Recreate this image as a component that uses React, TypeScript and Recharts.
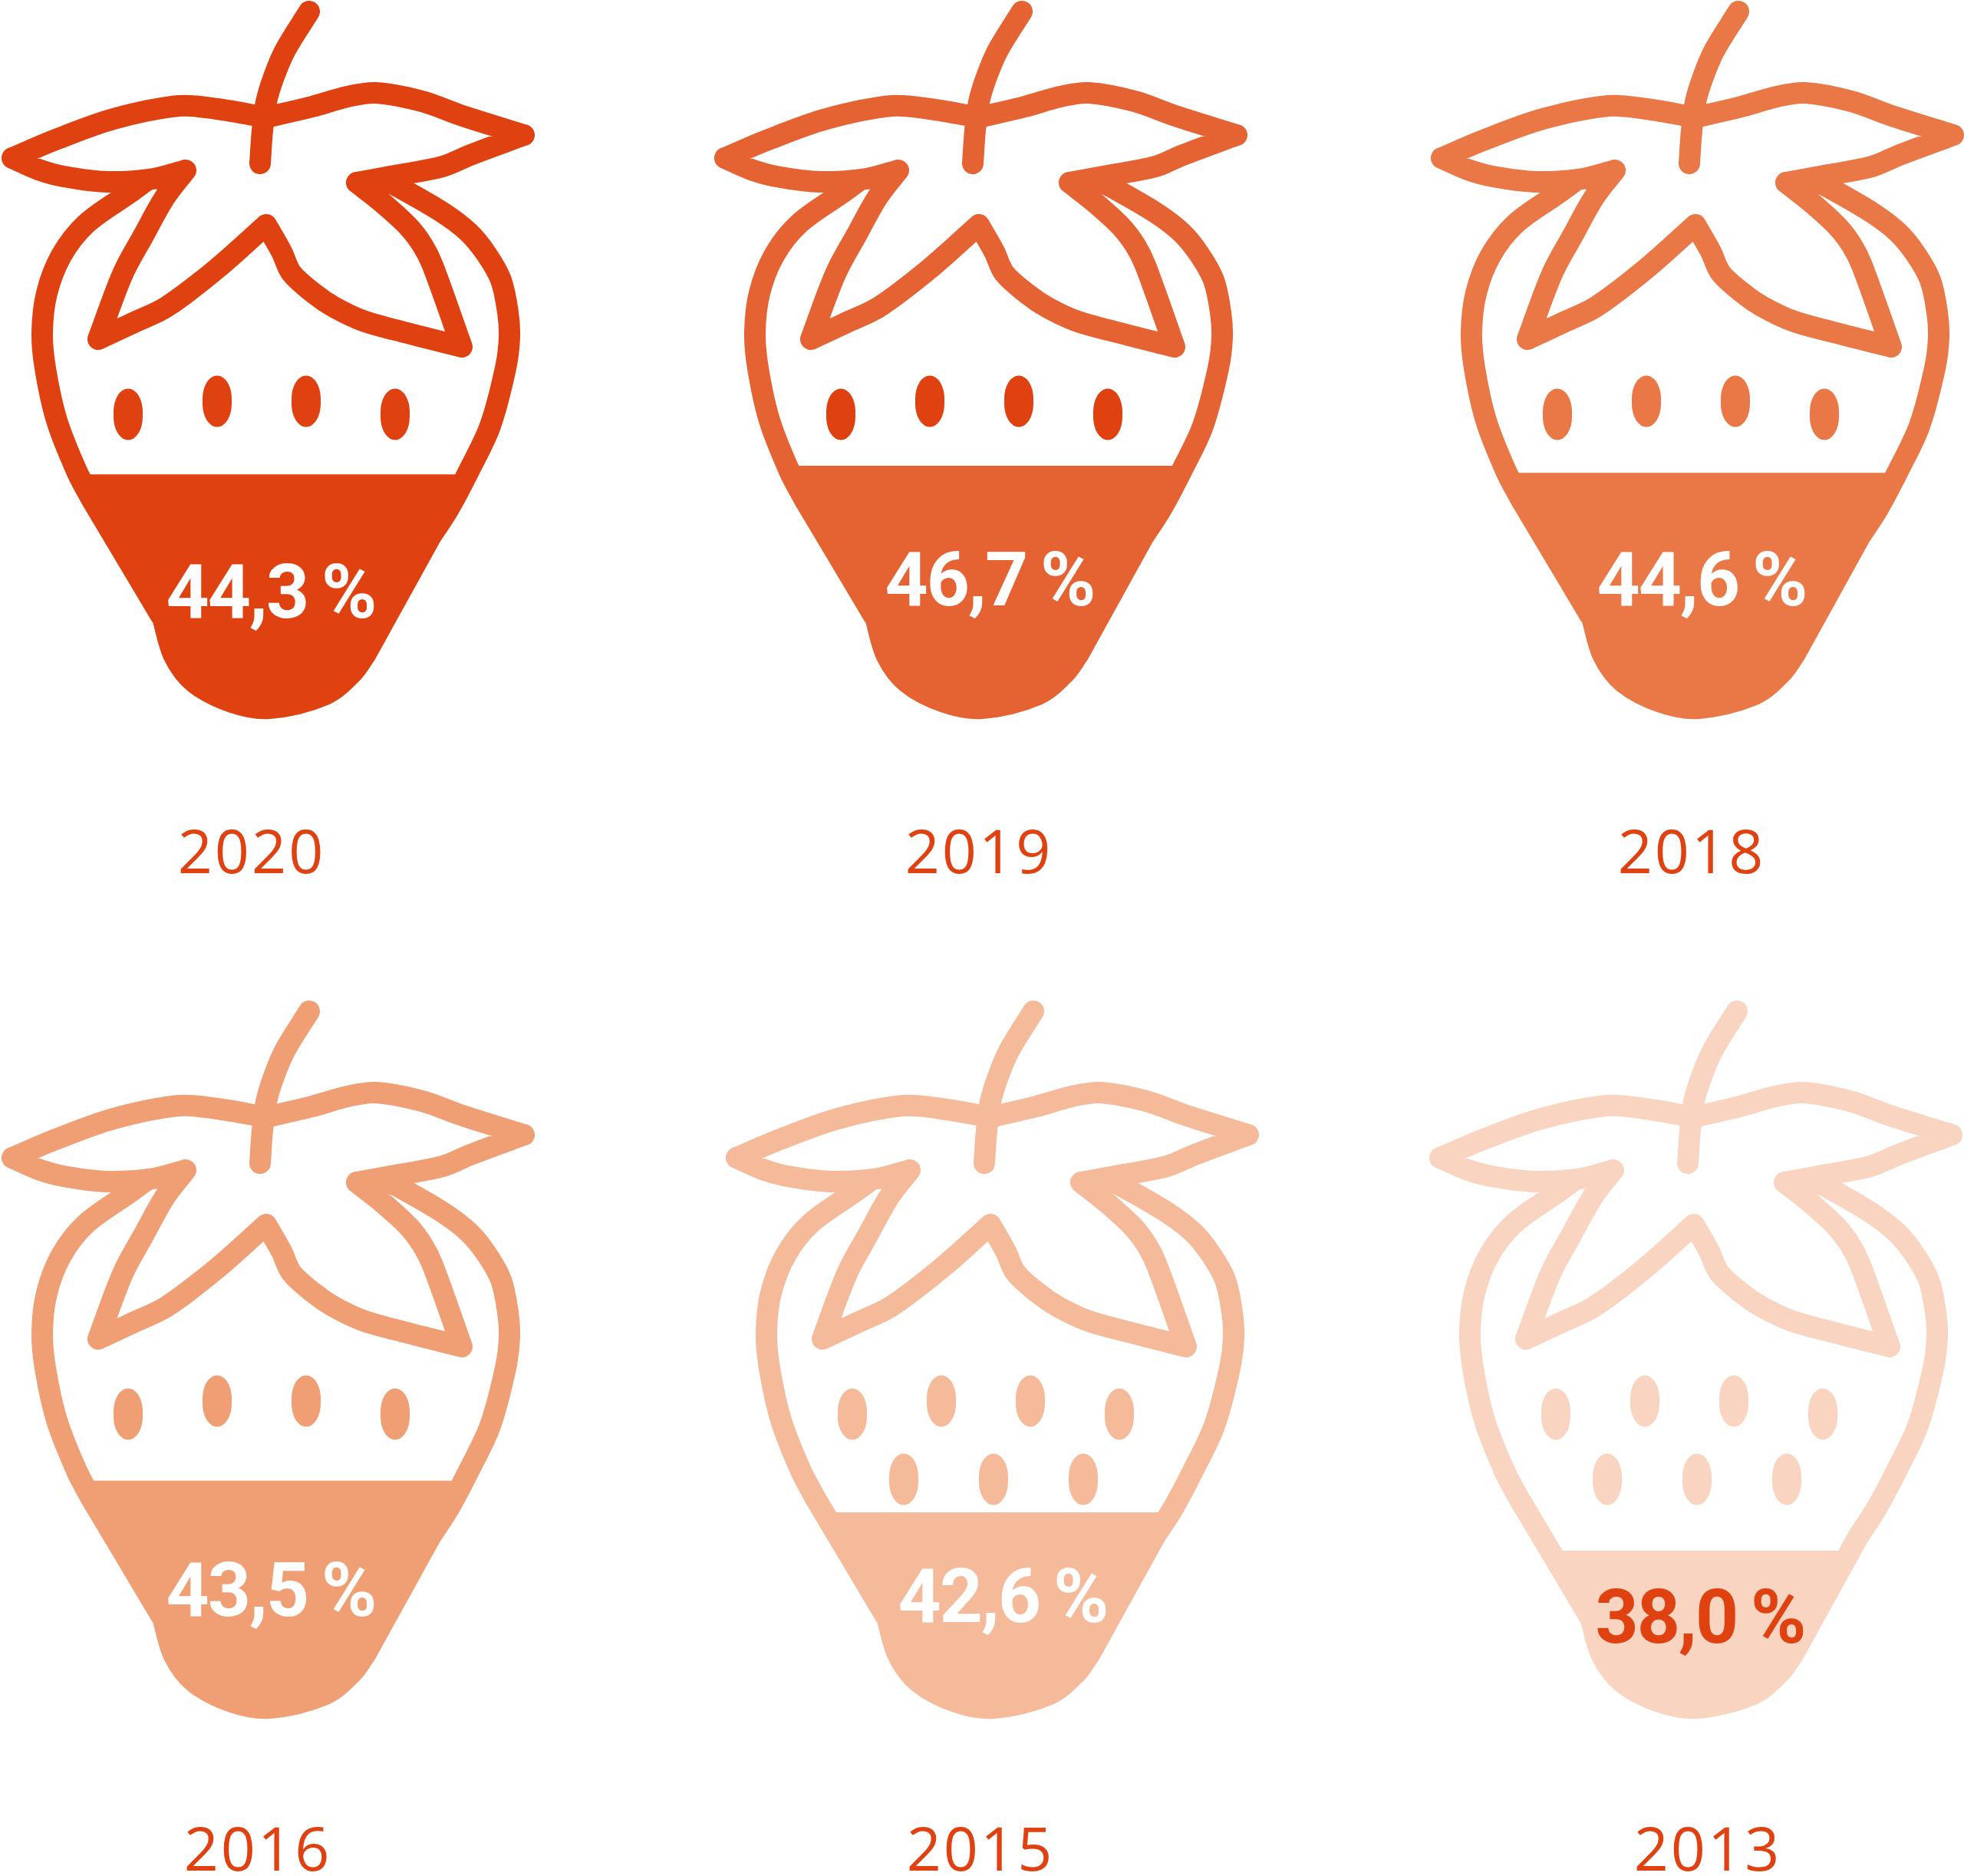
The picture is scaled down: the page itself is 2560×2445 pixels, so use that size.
import React from "react";
import { BarChart, Bar, XAxis, YAxis, LabelList } from "recharts";

// data
const years = ["2020", "2019", "2018", "2016", "2015", "2013"];
const percentages = [44.3, 46.7, 44.6, 43.5, 42.6, 38.0];
// height of the filled part, as a share of the strawberry's height
const fillLevels = [34.3, 35.5, 34.5, 33.4, 29.0, 23.7];

// layout and style, one entry per panel
const panelLeft = [0, 929, 1863, 0, 944, 1861];
const panelTop = [0, 0, 0, 1303, 1303, 1303];
const colours = ["#DF4210", "#E56233", "#EA7746", "#F09E74", "#F5BA9A", "#F9D5C1"];
const seedColours = ["#DF4210", "#DF4210", "#EA7746", "#F09E74", "#F5BA9A", "#F9D5C1"];
const textColours = ["#FFFFFF", "#FFFFFF", "#FFFFFF", "#FFFFFF", "#FFFFFF", "#DF4210"];
const valueX = [354, 362, 356, 354, 364, 356];
const valueY = [805, 789, 789, 803, 811, 838];
const yearX = [328, 347, 342, 336, 334, 365];
const yearY = [1138, 1138, 1138, 1135, 1135, 1135];
const secondRowSeeds = [false, false, false, false, true, true];

const ICON_BOTTOM = 941;
const CHART_W = 704;
const CHART_H = 1160;
const STROKE = 28;

type P = [number, number];

function unit(a: P, b: P): P {
  const dx = b[0] - a[0];
  const dy = b[1] - a[1];
  const l = Math.hypot(dx, dy) || 1;
  return [dx / l, dy / l];
}

// smooth curve through the points; the handles follow each segment's own length
function smooth(pts: P[], continued = false): string {
  let d = continued ? "" : `M${pts[0][0]},${pts[0][1]}`;
  for (let i = 0; i < pts.length - 1; i++) {
    const p0 = pts[Math.max(0, i - 1)];
    const p1 = pts[i];
    const p2 = pts[i + 1];
    const p3 = pts[Math.min(pts.length - 1, i + 2)];
    const len = Math.hypot(p2[0] - p1[0], p2[1] - p1[1]) / 3;
    const t1 = unit(p0, p2);
    const t2 = unit(p1, p3);
    d += `C${p1[0] + t1[0] * len},${p1[1] + t1[1] * len} ${p2[0] - t2[0] * len},${p2[1] - t2[1] * len} ${p2[0]},${p2[1]}`;
  }
  return d;
}

const crownSegments: P[][] = [
  [[16, 206], [70, 183], [148, 155], [233, 138], [283, 142], [347, 153]],
  [[347, 153], [407, 139], [453, 126], [490, 121], [550, 132], [603, 151], [683, 176]],
  [[683, 176], [613, 202], [577, 217], [520, 228], [465, 238]],
  [[465, 238], [497, 263], [532, 295], [551, 320], [564, 346], [602, 452]],
  [[602, 452], [523, 432], [473, 418], [435, 400], [410, 383], [380, 356], [367, 328], [347, 293]],
  [[347, 293], [283, 350], [217, 400], [173, 421], [128, 442]],
  [[128, 442], [160, 357], [187, 307], [215, 257], [242, 222]],
  [[242, 222], [200, 233], [140, 237], [83, 230], [50, 221], [16, 206]],
];
const stem: P[] = [[403, 15], [372, 65], [357, 100], [347, 133], [342, 170], [339, 213]];
const leftSide: P[] = [[190, 236], [168, 252], [112, 292], [80, 333], [61, 382], [55, 433], [59, 480], [74, 548], [100, 614], [119, 650]];
const bottom: P[] = [[212, 805], [227, 855], [254, 890], [302, 915], [351, 923], [424, 905], [459, 877], [477, 852]];
const rightSide: P[] = [[561, 700], [585, 663], [612, 612], [639, 555], [659, 480], [664, 440], [662, 407], [653, 365], [634, 331], [611, 303], [577, 277], [522, 245], [497, 233]];

const bodyPath =
  smooth(leftSide) +
  "L209,801L212,805" +
  smooth(bottom, true) +
  "L561,700" +
  smooth(rightSide, true);
const crownPath = crownSegments.map((s) => smooth(s)).join("");
const stemPath = smooth(stem);

const firstSeeds: P[] = [[167, 540], [283, 523], [399, 523], [515, 540]];
const moreSeeds: P[] = [[234, 625], [351, 625], [468, 625]];

function Strawberry(props: any) {
  const { x, y, width, payload } = props;
  const i = payload.index;
  const colour = colours[i];
  const clipId = `fill-${payload.year}`;
  const seeds = secondRowSeeds[i] ? [...firstSeeds, ...moreSeeds] : firstSeeds;
  return (
    <g>
      <clipPath id={clipId}>
        <rect x={x} y={y} width={width} height={ICON_BOTTOM + 20 - y} />
      </clipPath>
      <path d={bodyPath} fill={colour} stroke="none" clipPath={`url(#${clipId})`} />
      <path d={bodyPath} fill="none" stroke={colour} strokeWidth={STROKE} strokeLinejoin="round" />
      <path d={crownPath} fill="none" stroke={colour} strokeWidth={STROKE} strokeLinejoin="round" strokeLinecap="round" />
      <path d={stemPath} fill="none" stroke={colour} strokeWidth={STROKE} strokeLinecap="round" />
      {seeds.map((s, k) => (
        <rect key={k} x={s[0] - 19} y={s[1] - 33.5} width={38} height={67} rx={19} ry={30} fill={seedColours[i]} />
      ))}
    </g>
  );
}

function ValueLabel(props: any) {
  const { value, i } = props;
  return (
    <text
      x={valueX[i]}
      y={valueY[i]}
      textAnchor="middle"
      fill={textColours[i]}
      fontFamily="Roboto, sans-serif"
      fontWeight={700}
      fontSize={98}
      textLength={275}
    >
      {`${Number(value).toFixed(1).replace(".", ",")}\u2009%`}
    </text>
  );
}

function YearTick(props: any) {
  const { i, payload } = props;
  return (
    <text
      x={yearX[i]}
      y={yearY[i]}
      textAnchor="middle"
      fill="#DF4210"
      fontFamily="'Open Sans', sans-serif"
      fontWeight={400}
      fontSize={79}
      letterSpacing={3}
    >
      {payload.value}
    </text>
  );
}

function Panel({ i }: { i: number }) {
  const data = [{ index: i, year: years[i], level: fillLevels[i], percent: percentages[i] }];
  return (
    <div style={{ position: "absolute", left: panelLeft[i], top: panelTop[i] }}>
      <BarChart
        width={CHART_W}
        height={CHART_H}
        data={data}
        margin={{ top: 0, right: 0, bottom: 0, left: 0 }}
        barCategoryGap={0}
        style={{ overflow: "visible" }}
      >
        <XAxis
          dataKey="year"
          height={CHART_H - ICON_BOTTOM}
          axisLine={false}
          tickLine={false}
          interval={0}
          tick={(p: any) => <YearTick {...p} i={i} />}
        />
        <YAxis hide domain={[0, 100]} />
        <Bar dataKey="level" isAnimationActive={false} shape={(p: any) => <Strawberry {...p} />}>
          <LabelList dataKey="percent" content={(p: any) => <ValueLabel {...p} i={i} />} />
        </Bar>
      </BarChart>
    </div>
  );
}

export default function App() {
  return (
    <div
      style={{
        position: "absolute",
        left: 0,
        top: 0,
        width: 2560,
        height: 2445,
        overflow: "hidden",
        background: "#FFFFFF",
      }}
    >
      {years.map((_, i) => (
        <Panel key={years[i]} i={i} />
      ))}
    </div>
  );
}
